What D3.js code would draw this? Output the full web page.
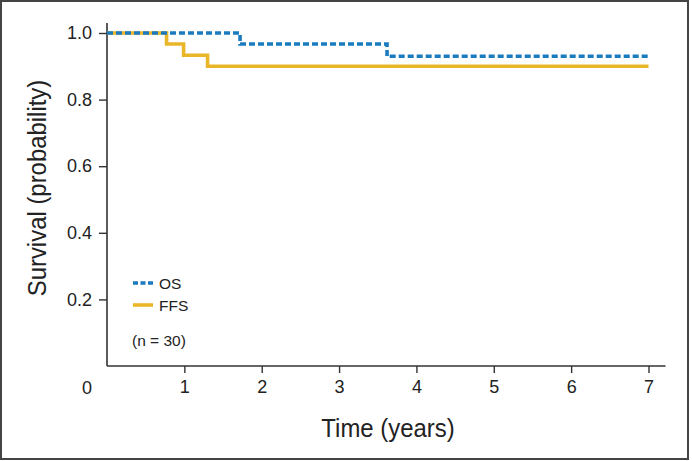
<!DOCTYPE html>
<html>
<head>
<meta charset="utf-8">
<script src="https://cdn.jsdelivr.net/npm/d3@7"></script>
<style>
  html, body { margin: 0; padding: 0; background: #fff; }
  svg { display: block; }
  svg text { font-family: "Liberation Sans", Arial, Helvetica, sans-serif; fill: #222; }
</style>
</head>
<body>
<svg id="chart" width="692" height="461"></svg>
<script>
// Data
const xTicks = [1, 2, 3, 4, 5, 6, 7];
const yTicks = [0.2, 0.4, 0.6, 0.8, 1.0];
const osTimes = [0, 1.72, 3.62, 7.0];
const osValues = [1.0, 0.967, 0.93, 0.93];
const ffsTimes = [0, 0.77, 0.99, 1.30, 7.0];
const ffsValues = [1.0, 0.967, 0.933, 0.900, 0.900];
const legendLabels = ["OS", "FFS"];
const noteText = "(n = 30)";
const xTitle = "Time (years)";
const yTitle = "Survival (probability)";

const svg = d3.select("#chart");
const blue = "#1b7bbf";
const gold = "#e8b627";
const axisColor = "#333";

// outer frame
svg.append("rect").attr("x", 1).attr("y", 1).attr("width", 687).attr("height", 458)
  .attr("fill", "none").attr("stroke", "#444").attr("stroke-width", 2);

const x = d3.scaleLinear().domain([0, 7]).range([107, 648.5]);
const y = d3.scaleLinear().domain([0, 1]).range([366, 33]);

// axis lines
svg.append("line").attr("x1", x(0)).attr("x2", x(0)).attr("y1", y(1.03)).attr("y2", y(0))
  .attr("stroke", axisColor).attr("stroke-width", 1.6);
svg.append("line").attr("x1", x(0)).attr("x2", x(7.22)).attr("y1", y(0)).attr("y2", y(0))
  .attr("stroke", axisColor).attr("stroke-width", 1.6);

// x axis ticks
const xAxis = d3.axisBottom(x).tickValues(xTicks).tickFormat(d3.format("d")).tickSize(7).tickPadding(7);
const gx = svg.append("g").attr("transform", `translate(0,${y(0)})`).call(xAxis);
gx.attr("font-family", null).attr("font-size", null);
gx.select(".domain").remove();
gx.selectAll(".tick line").attr("stroke", axisColor).attr("stroke-width", 1.4);
gx.selectAll(".tick text").style("font-size", "18px").style("fill", "#222");

// y axis ticks
const yAxis = d3.axisLeft(y).tickValues(yTicks).tickFormat(d3.format(".1f")).tickSize(8).tickPadding(7);
const gy = svg.append("g").attr("transform", `translate(${x(0)},0)`).call(yAxis);
gy.attr("font-family", null).attr("font-size", null);
gy.select(".domain").remove();
gy.selectAll(".tick line").attr("stroke", axisColor).attr("stroke-width", 1.4);
gy.selectAll(".tick text").style("font-size", "18px").style("fill", "#222");

// shared origin label
svg.append("text").attr("x", 87).attr("y", 394).attr("text-anchor", "middle")
  .style("font-size", "18px").text("0");

// axis titles (condensed via horizontal scaling)
svg.append("text").attr("transform", "translate(388,437) scale(0.92,1)").attr("text-anchor", "middle")
  .style("font-size", "26px").text(xTitle);
svg.append("text").attr("transform", "translate(46,188) rotate(-90) scale(0.92,1)").attr("text-anchor", "middle")
  .style("font-size", "26px").text(yTitle);

// curves
const line = d3.line().x(d => x(d[0])).y(d => y(d[1])).curve(d3.curveStepAfter);
const ffsData = ffsTimes.map((t, i) => [t, ffsValues[i]]);
const osData = osTimes.map((t, i) => [t, osValues[i]]);

svg.append("path").datum(ffsData).attr("d", line).attr("fill", "none")
  .attr("stroke", gold).attr("stroke-width", 3.6);
svg.append("path").datum(osData).attr("d", line).attr("fill", "none")
  .attr("stroke", blue).attr("stroke-width", 3.6).attr("stroke-dasharray", "6,3");

// legend
const leg = [{label: legendLabels[0], color: blue, dash: "5,2.5", y: 283},
             {label: legendLabels[1], color: gold, dash: null, y: 305}];
leg.forEach(l => {
  svg.append("line").attr("x1", 133).attr("x2", 153).attr("y1", l.y).attr("y2", l.y)
    .attr("stroke", l.color).attr("stroke-width", 3.6).attr("stroke-dasharray", l.dash);
  svg.append("text").attr("x", 159).attr("y", l.y + 5.5)
    .style("font-size", "15.5px").text(l.label);
});
svg.append("text").attr("x", 132).attr("y", 346)
  .style("font-size", "15.5px").text(noteText);
</script>
</body>
</html>
